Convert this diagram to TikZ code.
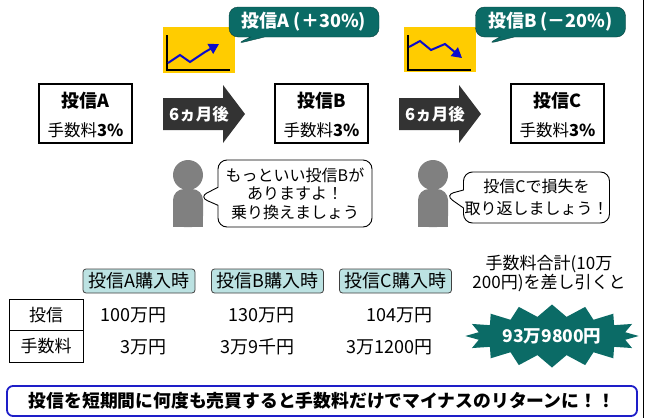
\documentclass[tikz,border=0pt]{standalone}
\usepackage{fontspec}
\setmainfont{Noto Sans CJK JP}
\usetikzlibrary{arrows.meta,shapes.callouts,shapes.symbols}
\definecolor{deepteal}{HTML}{0B6B66}
\definecolor{paleteal}{HTML}{BCE2E2}
\definecolor{chartyellow}{HTML}{FFCC00}
\definecolor{chartblue}{HTML}{0A0ACC}
\definecolor{arrowgray}{HTML}{333333}
\definecolor{persongray}{HTML}{808080}
\definecolor{frameblue}{HTML}{1E1EC8}

\begin{document}
\begin{tikzpicture}[x=1pt,y=-1pt,
  fundbox/.style={draw,line width=1.2pt,minimum width=93pt,minimum height=59pt},
  gaincall/.style={rectangle callout,fill=deepteal,draw=deepteal!60!black,rounded corners=9pt,
    text=white,font=\fontsize{18}{20}\selectfont\bfseries,minimum width=150pt,minimum height=30pt,
    inner sep=1pt,callout pointer width=14pt},
  talk/.style={rectangle callout,draw,line width=0.9pt,fill=white,rounded corners=9pt,align=center,
    font=\fontsize{16}{18.5}\selectfont,inner sep=1pt,callout pointer width=18pt},
  buytag/.style={draw=black!75,fill=paleteal,rounded corners=3pt,line width=0.8pt,
    minimum width=112pt,minimum height=24pt,inner sep=1pt,font=\fontsize{18}{20}\selectfont},
  cell/.style={draw,line width=0.8pt,minimum width=74pt,minimum height=31.5pt,font=\fontsize{17}{19}\selectfont},
  amount/.style={anchor=east,inner sep=0pt,font=\fontsize{18}{20}\selectfont}]
  \useasboundingbox (0,0) rectangle (646,418);
  \draw[line width=0.8pt] (643,0) -- (643,418);

  % funds and fees
  \foreach \n/\x in {A/85.5,B/321.5,C/557.5} {
    \node[fundbox] (box\n) at (\x,113.5) {};
    \node[font=\fontsize{18}{20}\selectfont\bfseries] (title\n) at (\x,100.5) {投信\n};
    \node[font=\fontsize{16.5}{18}\selectfont] (rate\n) at (\x,130.5) {手数料\textbf{3\%}};
  }

  % six months later
  \foreach \x [count=\i] in {163,399} {
    \fill[arrowgray] (\x,98) -- ++(60,0) -- ++(0,-13) -- ++(22,29) -- ++(-22,29)
      -- ++(0,-13) -- ++(-60,0) -- cycle;
    \node[text=white,font=\fontsize{16.5}{18}\selectfont\bfseries] (later\i) at (\x+36,114) {6ヵ月後};
  }

  % price charts
  \fill[chartyellow] (163,27) rectangle (235,73);
  \draw[line width=2pt] (167,35) -- (167,70) -- (230,70);
  \draw[chartblue,line width=2pt,-{Triangle[length=10pt,width=11pt]}]
    (168,63) -- (180,55) -- (190,62) -- (205,52) -- (219,44);
  \fill[chartyellow] (404,27) rectangle (476,72);
  \draw[line width=2pt] (408,35) -- (408,70) -- (471,70);
  \draw[chartblue,line width=2pt,-{Triangle[length=10pt,width=11pt]}]
    (409,47) -- (420,41) -- (431,50) -- (445,44) -- (462,58);

  \coordinate (tipA) at (236,44);
  \coordinate (tipB) at (487,44);
  \node[gaincall,callout absolute pointer=(tipA)] (gainA) at (304,22) {投信A (＋30\%)};
  \node[gaincall,callout absolute pointer=(tipB)] (gainB) at (550.5,22) {投信B (－20\%)};

  % advisers
  \foreach \x in {188,433} {
    \fill[persongray] (\x,175) circle[radius=15pt];
    \fill[persongray,rounded corners=11pt] (\x-15,189) rectangle (\x+15,227);
    \fill[persongray] (\x-15,210) rectangle (\x+15,227);
  }
  \coordinate (sayB) at (199,197);
  \coordinate (sayC) at (445,195);
  \node[talk,callout absolute pointer=(sayB),minimum width=154pt,minimum height=67pt] (talkB)
    at (295,193.5) {もっといい投信Bが\\ありますよ！\\乗り換えましょう};
  \node[talk,callout absolute pointer=(sayC),minimum width=145pt,minimum height=51pt,
    font=\fontsize{16}{22}\selectfont] (talkC)
    at (536.5,197.5) {投信Cで損失を\\取り返しましょう！};

  % cost table
  \foreach \n/\x in {A/139,B/267.5,C/395.5}
    \node[buytag] (buy\n) at (\x,281) {投信\n{}購入時};
  \node[cell] (rowfund) at (46,314.75) {投信};
  \node[cell] (rowfee) at (46,346.25) {手数料};
  \foreach \x/\fundval/\feeval [count=\i] in {167/100万円/3万円,295/130万円/3万9千円,433/104万円/3万1200円} {
    \node[amount] (fund\i) at (\x,315) {\fundval};
    \node[amount] (fee\i) at (\x,347) {\feeval};
  }

  \node[align=center,font=\fontsize{17}{19}\selectfont] (feesum) at (549,274)
    {手数料合計(10万\\200円)を差し引くと};
  \node[starburst,starburst points=16,starburst point height=12pt,random starburst=0,
    fill=deepteal,minimum width=163pt,minimum height=63pt,text=white,
    font=\fontsize{17.5}{20}\selectfont\bfseries] (result) at (552,336) {93万9800円};

  \node[draw=frameblue,line width=1.8pt,rounded corners=6pt,minimum width=630pt,minimum height=30pt,
    font=\fontsize{17.8}{20}\selectfont\bfseries] (lesson) at (322,401)
    {投信を短期間に何度も売買すると手数料だけでマイナスのリターンに！！};
\end{tikzpicture}
\end{document}
